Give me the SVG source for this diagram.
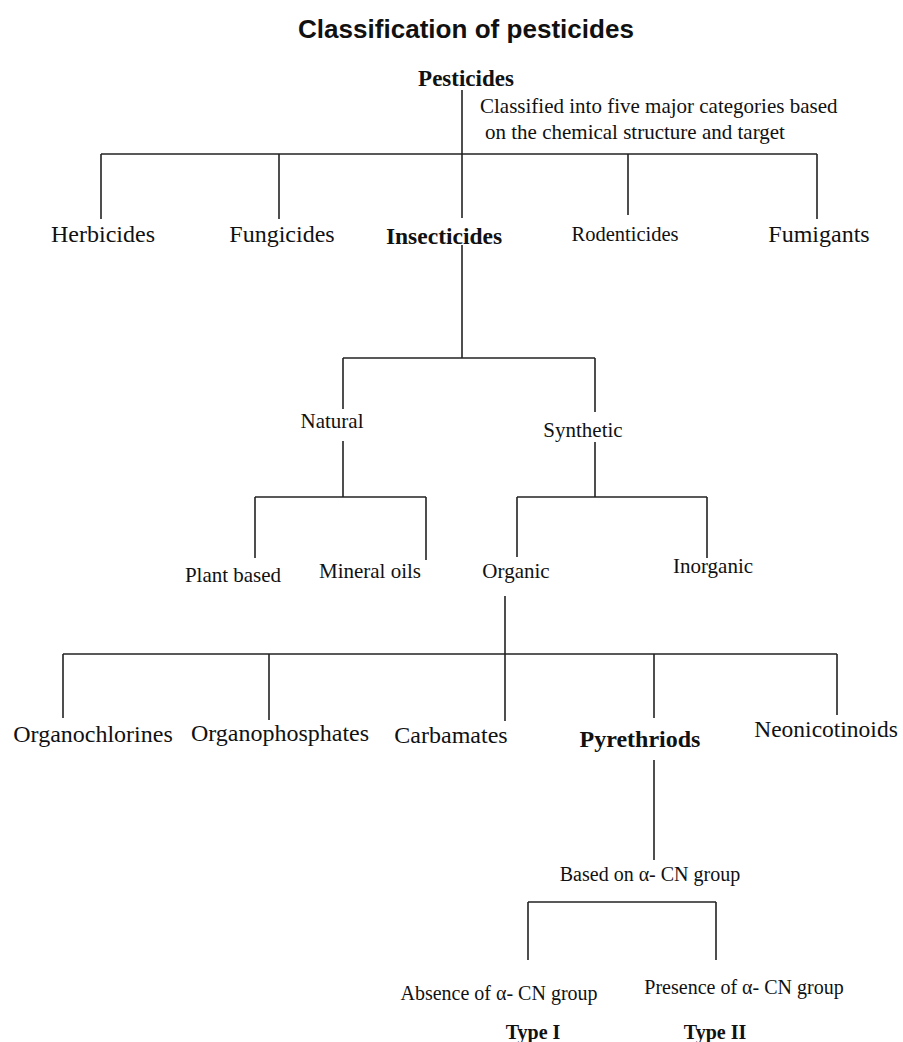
<svg xmlns="http://www.w3.org/2000/svg" width="903" height="1042" viewBox="0 0 903 1042">
<style>
text{font-family:"Liberation Serif","Times New Roman",serif;fill:#111;text-anchor:middle}
.t{font-family:"Liberation Sans",Arial,sans-serif;font-weight:bold;font-size:25px}
.b{font-weight:bold}
.l24{font-size:24px}
.l21{font-size:21px}
.l20{font-size:20px}
#connectors line{stroke:#222;stroke-width:1.6;fill:none}
</style>
<rect width="903" height="1042" fill="#fff"/>
<g id="title"><text class="t" x="466" y="38" textLength="336" lengthAdjust="spacingAndGlyphs">Classification of pesticides</text></g>
<g id="connectors">
<line x1="462" y1="90" x2="462" y2="218"/>
<line x1="101" y1="154" x2="817" y2="154"/>
<line x1="101" y1="154" x2="101" y2="219"/>
<line x1="279" y1="154" x2="279" y2="219"/>
<line x1="628" y1="154" x2="628" y2="215"/>
<line x1="817" y1="154" x2="817" y2="219"/>
<line x1="462" y1="245" x2="462" y2="358"/>
<line x1="343" y1="358" x2="595" y2="358"/>
<line x1="343" y1="358" x2="343" y2="409"/>
<line x1="595" y1="358" x2="595" y2="412"/>
<line x1="343" y1="441" x2="343" y2="497"/>
<line x1="255" y1="497" x2="426" y2="497"/>
<line x1="255" y1="497" x2="255" y2="558"/>
<line x1="426" y1="497" x2="426" y2="560"/>
<line x1="595" y1="442" x2="595" y2="497"/>
<line x1="517" y1="497" x2="707" y2="497"/>
<line x1="517" y1="497" x2="517" y2="557"/>
<line x1="707" y1="497" x2="707" y2="558"/>
<line x1="505" y1="596" x2="505" y2="654"/>
<line x1="63" y1="654" x2="837" y2="654"/>
<line x1="63" y1="654" x2="63" y2="718"/>
<line x1="269" y1="654" x2="269" y2="720"/>
<line x1="505" y1="654" x2="505" y2="721"/>
<line x1="654" y1="654" x2="654" y2="718"/>
<line x1="837" y1="654" x2="837" y2="715"/>
<line x1="654" y1="760" x2="654" y2="860"/>
<line x1="528" y1="902" x2="716" y2="902"/>
<line x1="528" y1="902" x2="528" y2="960"/>
<line x1="716" y1="902" x2="716" y2="960"/>
</g>
<g id="pesticides"><text class="b" x="466" y="86" style="font-size:23px">Pesticides</text></g>
<g id="classified-note"><text class="l21" x="480" y="113" style="text-anchor:start">Classified into five major categories based</text><text class="l21" x="485" y="139" style="text-anchor:start">on the chemical structure and target</text></g>
<g id="herbicides"><text class="l24" x="103" y="242">Herbicides</text></g>
<g id="fungicides"><text class="l24" x="282" y="242">Fungicides</text></g>
<g id="insecticides"><text class="b" x="444" y="244" style="font-size:23.5px">Insecticides</text></g>
<g id="rodenticides"><text x="625" y="241" style="font-size:20.5px">Rodenticides</text></g>
<g id="fumigants"><text class="l24" x="819" y="242">Fumigants</text></g>
<g id="natural"><text class="l21" x="332" y="428">Natural</text></g>
<g id="synthetic"><text class="l21" x="583" y="437">Synthetic</text></g>
<g id="plant-based"><text class="l21" x="233" y="582">Plant based</text></g>
<g id="mineral-oils"><text class="l21" x="370" y="578">Mineral oils</text></g>
<g id="organic"><text class="l21" x="516" y="578">Organic</text></g>
<g id="inorganic"><text class="l21" x="713" y="573">Inorganic</text></g>
<g id="organochlorines"><text class="l24" x="93" y="742">Organochlorines</text></g>
<g id="organophosphates"><text class="l24" x="280" y="741">Organophosphates</text></g>
<g id="carbamates"><text class="l24" x="451" y="743">Carbamates</text></g>
<g id="pyrethroids"><text class="b l24" x="640" y="747">Pyrethriods</text></g>
<g id="neonicotinoids"><text x="826" y="737" style="font-size:23.5px">Neonicotinoids</text></g>
<g id="based-on"><text class="l20" x="650" y="881">Based on α- CN group</text></g>
<g id="absence"><text class="l20" x="499" y="1000">Absence of α- CN group</text></g>
<g id="presence"><text class="l20" x="744" y="994">Presence of α- CN group</text></g>
<g id="type1"><text class="b l20" x="533" y="1039">Type I</text></g>
<g id="type2"><text class="b l20" x="715" y="1039">Type II</text></g>
</svg>
